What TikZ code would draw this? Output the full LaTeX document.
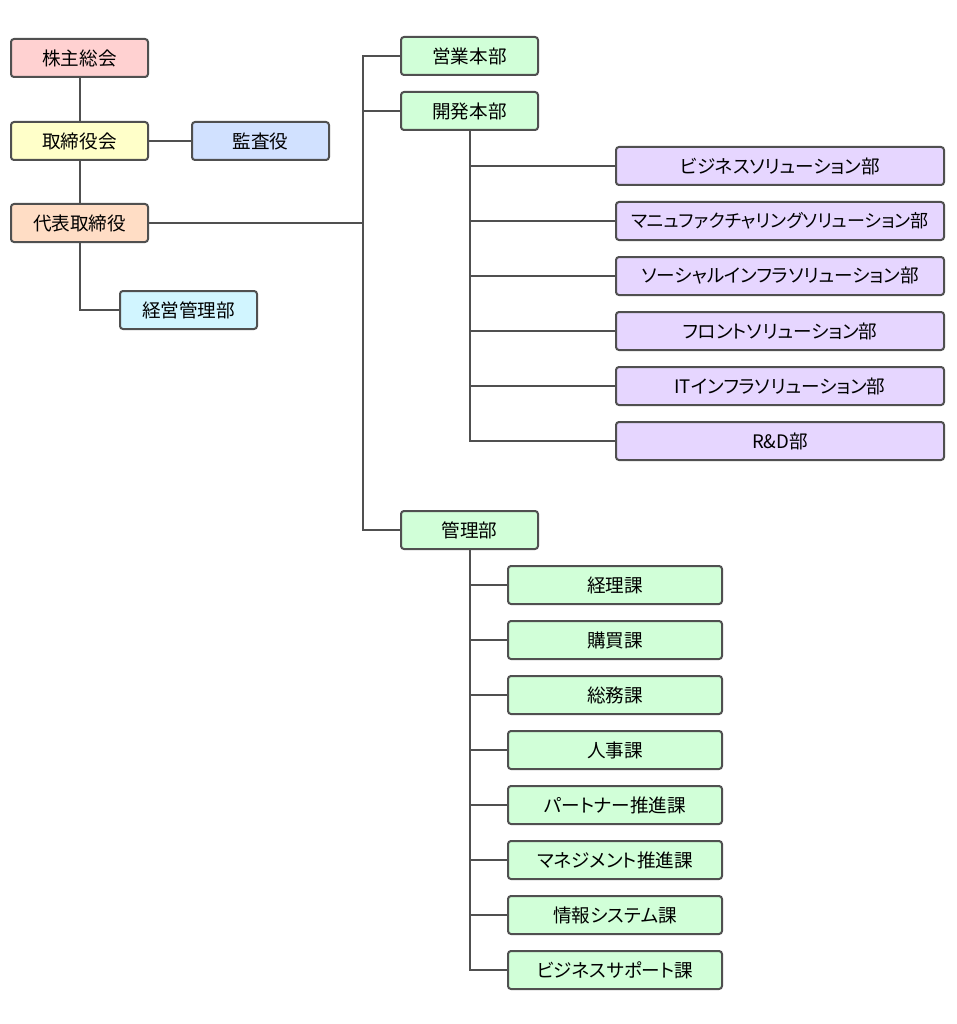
\documentclass[tikz,border=0pt]{standalone}
\usepackage{fontspec}
\setmainfont{Noto Sans CJK JP}[RawFeature={+palt}]
\definecolor{linec}{HTML}{505050}
\definecolor{cpink}{HTML}{FFD1D1}
\definecolor{cyellow}{HTML}{FFFFC9}
\definecolor{cblue}{HTML}{D1E1FF}
\definecolor{corange}{HTML}{FFDDC5}
\definecolor{ccyan}{HTML}{D1F5FF}
\definecolor{cgreen}{HTML}{D1FFD8}
\definecolor{cpurple}{HTML}{E6D6FF}
\begin{document}
\begin{tikzpicture}[x=1pt,y=-1pt,
  box/.style={draw=linec, line width=2pt, rounded corners=3pt, minimum width=137pt, minimum height=38pt, inner sep=0pt, font=\fontsize{18.6}{21}\selectfont},
  wide/.style={box, minimum width=328pt, fill=cpurple},
  sect/.style={box, minimum width=214pt, fill=cgreen},
  conn/.style={draw=linec, line width=2pt}]
\useasboundingbox[fill=white] (0,0) rectangle (957,1024);
% left column
\node[box, fill=cpink] (kabu) at (79.5,58) {株主総会};
\node[box, fill=cyellow] (tori) at (79.5,141) {取締役会};
\node[box, fill=cblue] (kansa) at (260.5,141) {監査役};
\node[box, fill=corange] (daih) at (79.5,223) {代表取締役};
\node[box, fill=ccyan] (keiei) at (188.5,310) {経営管理部};
% divisions
\node[box, fill=cgreen] (eigyo) at (469.5,56) {営業本部};
\node[box, fill=cgreen] (kaih) at (469.5,111) {開発本部};
\node[box, fill=cgreen] (kanri) at (469.5,530) {管理部};
% development departments
\node[wide] (p1) at (780,166) {ビジネスソリューション部};
\node[wide] (p2) at (780,221) {\fontsize{18}{21}\selectfont マニュファクチャリングソリューション部};
\node[wide] (p3) at (780,276) {ソーシャルインフラソリューション部};
\node[wide] (p4) at (780,331) {フロントソリューション部};
\node[wide] (p5) at (780,386) {ITインフラソリューション部};
\node[wide] (p6) at (780,441) {R\&D部};
% management sections
\node[sect] (g1) at (615,585) {経理課};
\node[sect] (g2) at (615,640) {購買課};
\node[sect] (g3) at (615,695) {総務課};
\node[sect] (g4) at (615,750) {人事課};
\node[sect] (g5) at (615,805) {パートナー推進課};
\node[sect] (g6) at (615,860) {マネジメント推進課};
\node[sect] (g7) at (615,915) {情報システム課};
\node[sect] (g8) at (615,970) {ビジネスサポート課};
% connectors
\coordinate (tt) at (363,56);
\coordinate (tb) at (363,530);
\path[conn] (kabu.south) -- (tori.north);
\path[conn] (tori.south) -- (daih.north);
\path[conn] (tori.east) -- (kansa.west);
\path[conn] (daih.south) |- (keiei.west);
\path[conn] (daih.east) -- (daih.east -| tt);
\path[conn] (eigyo.west) -- (tt) -- (tb) -- (kanri.west);
\path[conn] (kaih.west) -- (kaih.west -| tt);
\foreach \p in {p1,p2,p3,p4,p5,p6} {\path[conn] (kaih.south) |- (\p.west);}
\foreach \g in {g1,g2,g3,g4,g5,g6,g7,g8} {\path[conn] (kanri.south) |- (\g.west);}
\end{tikzpicture}
\end{document}
